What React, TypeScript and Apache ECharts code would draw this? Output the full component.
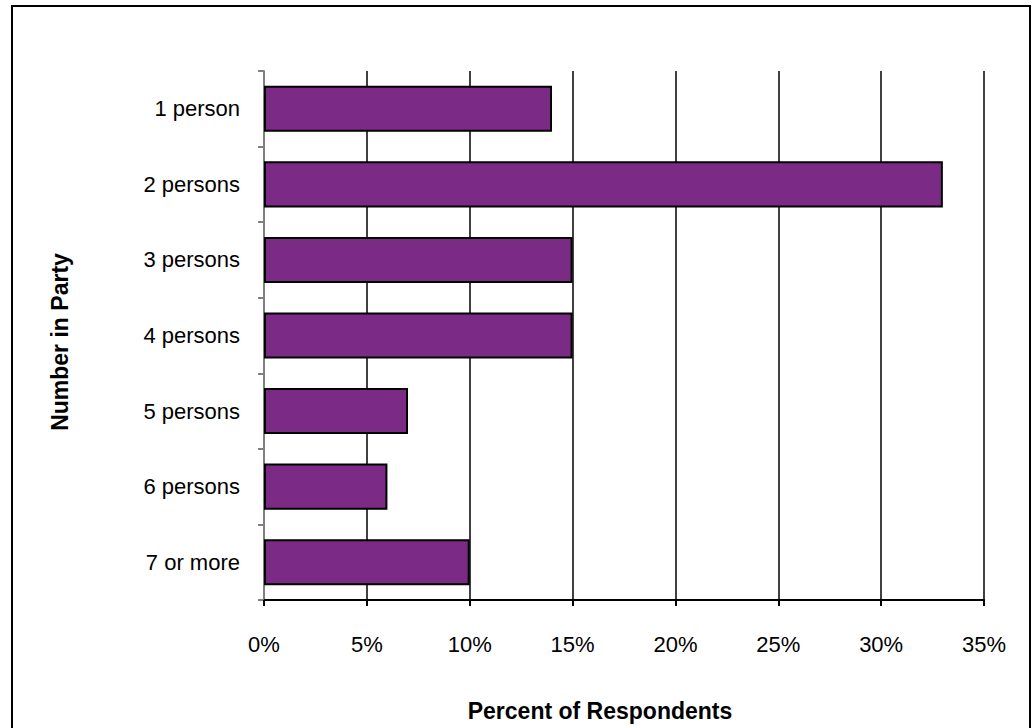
import React, { useEffect, useRef } from "react";
import * as echarts from "echarts";

const categories = ["1 person", "2 persons", "3 persons", "4 persons", "5 persons", "6 persons", "7 or more"];
const percents = [14, 33, 15, 15, 7, 6, 10];
const xTicks = [0, 5, 10, 15, 20, 25, 30, 35];
const xTitle = "Percent of Respondents";
const yTitle = "Number in Party";

const FONT = "'Liberation Sans', Arial, sans-serif";

export default function App() {
  const ref = useRef<HTMLDivElement>(null);

  useEffect(() => {
    if (!ref.current) return;
    const chart = echarts.init(ref.current, null, { renderer: "svg" });
    chart.setOption({
      animation: false,
      backgroundColor: "#ffffff",
      textStyle: { fontFamily: FONT },
      graphic: [
        {
          type: "rect",
          shape: { x: 12, y: 6, width: 1018, height: 760 },
          style: { fill: "none", stroke: "#000", lineWidth: 2 },
          silent: true,
        },
        {
          type: "text",
          x: 600,
          y: 711,
          style: {
            text: xTitle,
            fontFamily: FONT,
            fontSize: 23,
            fontWeight: "bold",
            fill: "#000",
            align: "center",
            verticalAlign: "middle",
          },
        },
        {
          type: "text",
          x: 60,
          y: 342,
          rotation: Math.PI / 2,
          style: {
            text: yTitle,
            fontFamily: FONT,
            fontSize: 23,
            fontWeight: "bold",
            fill: "#000",
            align: "center",
            verticalAlign: "middle",
          },
        },
      ],
      grid: { left: 264, right: 48, top: 71, bottom: 128, containLabel: false },
      xAxis: {
        type: "value",
        min: xTicks[0],
        max: xTicks[xTicks.length - 1],
        interval: 5,
        axisLine: { show: true, lineStyle: { color: "#000", width: 2 } },
        axisTick: { show: true, length: 6, lineStyle: { color: "#000", width: 2 } },
        axisLabel: {
          formatter: (v: number) => `${v}%`,
          fontFamily: FONT,
          fontSize: 22,
          color: "#000",
          margin: 33,
        },
        splitLine: { show: true, lineStyle: { color: "#000", width: 1.5 } },
      },
      yAxis: {
        type: "category",
        data: categories,
        inverse: true,
        axisLine: { show: true, lineStyle: { color: "#808080", width: 2 } },
        axisTick: { show: true, length: 6, alignWithLabel: false, lineStyle: { color: "#808080", width: 2 } },
        axisLabel: { fontFamily: FONT, fontSize: 22, color: "#000", margin: 24 },
        splitLine: { show: false },
      },
      series: [
        {
          type: "bar",
          data: percents,
          barCategoryGap: "39%",
          itemStyle: { color: "#7B2A86", borderColor: "#000", borderWidth: 2 },
        },
      ],
    });
    return () => chart.dispose();
  }, []);

  return (
    <div
      ref={ref}
      style={{ position: "fixed", left: 0, top: 0, width: 1032, height: 728 }}
    />
  );
}
